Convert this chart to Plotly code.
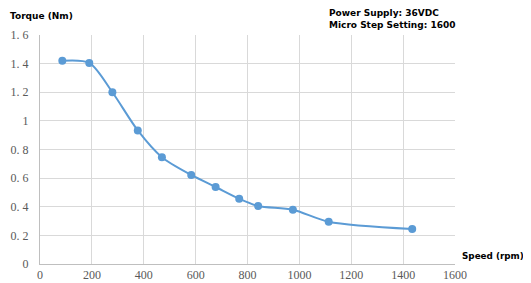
import plotly.graph_objects as go

speed = [86, 190, 279, 377, 470, 583, 677, 768, 841, 975, 1113, 1435]
torque = [1.42, 1.405, 1.20, 0.933, 0.746, 0.622, 0.538, 0.456, 0.405, 0.379, 0.295, 0.244]

x_ticks = [0, 200, 400, 600, 800, 1000, 1200, 1400, 1600]
y_ticks = [0, 0.2, 0.4, 0.6, 0.8, 1.0, 1.2, 1.4, 1.6]
y_labels = ["0", "0.\u00a02", "0.\u00a04", "0.\u00a06", "0.\u00a08", "1",
            "1.\u00a02", "1.\u00a04", "1.\u00a06"]

fig = go.Figure()
fig.add_trace(go.Scatter(
    x=speed, y=torque, mode="lines+markers",
    line=dict(color="#5B9BD5", width=2, shape="spline", smoothing=0.8),
    marker=dict(color="#5B9BD5", size=8),
    showlegend=False,
))

tick_font = dict(family="Liberation Serif", size=12, color="#595959")
fig.update_layout(
    width=523, height=275,
    margin=dict(l=32, r=76, t=27, b=19, autoexpand=False),
    paper_bgcolor="white", plot_bgcolor="white",
    xaxis=dict(range=[0, 1600], tickvals=x_ticks, ticktext=[str(v) for v in x_ticks],
               showgrid=True, gridcolor="#d9d9d9", gridwidth=1,
               showline=True, linecolor="#bfbfbf", zeroline=False,
               tickfont=tick_font, ticks="", automargin=False, ticklabelstandoff=0),
    yaxis=dict(range=[0, 1.6], tickvals=y_ticks, ticktext=y_labels,
               showgrid=True, gridcolor="#d9d9d9", gridwidth=1,
               showline=True, linecolor="#bfbfbf", zeroline=False,
               tickfont=tick_font, ticks="", automargin=False, ticklabelstandoff=8),
)

title_font = dict(family="DejaVu Sans, Verdana, sans-serif", size=9, color="black")
fig.add_annotation(text="<b>Torque (Nm)</b>", xref="paper", yref="paper",
                   x=-0.077, y=1.085, xanchor="left", yanchor="middle",
                   showarrow=False, font=title_font)
fig.add_annotation(text="<b>Power Supply: 36VDC</b><br><b>Micro Step Setting: 1600</b>",
                   xref="paper", yref="paper", x=0.692, y=1.07,
                   xanchor="left", yanchor="middle", align="left",
                   showarrow=False, font=title_font)
fig.add_annotation(text="<b>Speed (rpm)</b>", xref="paper", yref="paper",
                   x=1.013, y=0.035, xanchor="left", yanchor="middle",
                   showarrow=False, font=dict(title_font, size=8.8))

fig.write_html("out.html")
